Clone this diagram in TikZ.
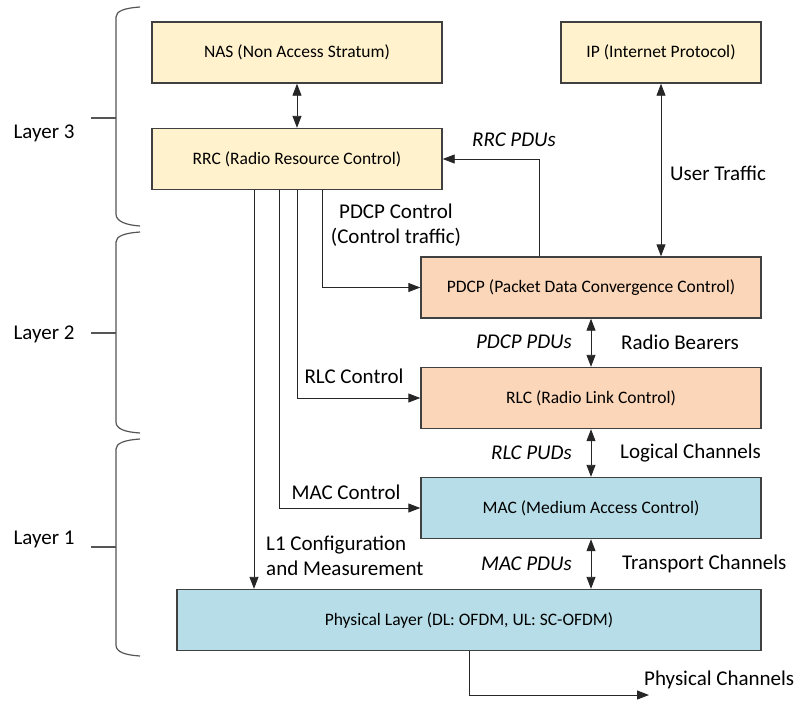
\documentclass[tikz,border=0pt]{standalone}
\usepackage{fontspec}
\setmainfont{Carlito}
\usetikzlibrary{arrows.meta,calc}
\definecolor{upperfill}{HTML}{FFF2CC}
\definecolor{midfill}{HTML}{FCD6B8}
\definecolor{lowerfill}{HTML}{B7DEE8}
\definecolor{edgegray}{HTML}{404040}
\definecolor{bracegray}{HTML}{555555}
\tikzset{
  layerbox/.style={draw=edgegray, line width=1.4pt, minimum height=61pt, inner sep=0pt,
    font=\fontsize{17.5}{21}\selectfont},
  lbl/.style={font=\fontsize{21}{25}\selectfont, inner sep=0pt},
  ilbl/.style={font=\fontsize{21}{25}\selectfont\itshape, inner sep=0pt},
  link/.style={draw=black!85, line width=0.9pt},
  tip/.style={-{Triangle[length=12pt,width=9pt]}},
  dtip/.style={{Triangle[length=12pt,width=9pt]}-{Triangle[length=12pt,width=9pt]}},
  brace/.style={draw=bracegray, line width=1.2pt}
}
\begin{document}
\begin{tikzpicture}[x=1pt,y=-1pt]
\useasboundingbox (0,0) rectangle (797,702);

% protocol layers
\node[layerbox, fill=upperfill, minimum width=290pt] (nas) at (297,52.5) {NAS (Non Access Stratum)};
\node[layerbox, fill=upperfill, minimum width=200pt] (ip) at (661,52.5) {IP (Internet Protocol)};
\node[layerbox, fill=upperfill, minimum width=290pt] (rrc) at (297,159) {RRC (Radio Resource Control)};
\node[layerbox, fill=midfill, minimum width=340pt] (pdcp) at (591,287.5) {PDCP (Packet Data Convergence Control)};
\node[layerbox, fill=midfill, minimum width=340pt] (rlc) at (591,398) {RLC (Radio Link Control)};
\node[layerbox, fill=lowerfill, minimum width=340pt] (mac) at (591,508) {MAC (Medium Access Control)};
\node[layerbox, fill=lowerfill, minimum width=584pt] (phy) at (469,620) {Physical Layer (DL: OFDM, UL: SC-OFDM)};

% data path between layers
\draw[link, dtip] (nas.south) -- (rrc.north);
\draw[link, dtip] (ip.south) -- (ip.south |- pdcp.north);
\draw[link, dtip] (pdcp.south) -- (rlc.north);
\draw[link, dtip] (rlc.south) -- (mac.north);
\draw[link, dtip] (mac.south) -- (mac.south |- phy.north);
\draw[link, tip] ([xshift=-52pt]pdcp.north) |- (rrc.east);

% control paths from RRC
\draw[link, tip] ([xshift=25pt]rrc.south) |- (pdcp.west);
\draw[link, tip] (rrc.south) |- (rlc.west);
\draw[link, tip] ([xshift=-18pt]rrc.south) |- (mac.west);
\draw[link, tip] ([xshift=-43pt]rrc.south) -- ([xshift=-43pt]rrc.south |- phy.north);

% output to the air interface
\coordinate (air) at (649,695);
\draw[link, tip] (phy.south) |- (air);

% connector labels
\node[ilbl] (rrcpdu) at (514,140) {RRC PDUs};
\node[lbl] (usertraffic) at (718,173) {User Traffic};
\node[lbl, align=center] (pdcpctl) at (396,225) {PDCP Control\\(Control traffic)};
\node[lbl] (rlcctl) at (354,376) {RLC Control};
\node[lbl] (macctl) at (346,492) {MAC Control};
\node[lbl, align=left, anchor=west] (l1cfg) at (266,555.5) {L1 Configuration\\and Measurement};
\node[ilbl, anchor=east] (pdcppdu) at (572,342) {PDCP PDUs};
\node[lbl, anchor=west] (rb) at (621,342) {Radio Bearers};
\node[ilbl, anchor=east] (rlcpud) at (572,453) {RLC PUDs};
\node[lbl, anchor=west] (lc) at (620,453) {Logical Channels};
\node[ilbl, anchor=east] (macpdu) at (572,564) {MAC PDUs};
\node[lbl, anchor=west] (tc) at (622,564) {Transport Channels};
\node[lbl, anchor=west] (pc) at (644,680) {Physical Channels};

% layer braces
\draw[brace] (140,7) .. controls (125,8) and (116,11) .. (116,17) -- (116,214) .. controls (116,221) and (125,225) .. (140,226);
\draw[brace] (116,118) -- (91,118);
\draw[brace] (140,232) .. controls (125,233) and (116,236) .. (116,242) -- (116,422) .. controls (116,429) and (125,432) .. (140,433);
\draw[brace] (116,333) -- (91,333);
\draw[brace] (140,439) .. controls (125,440) and (116,443) .. (116,449) -- (116,645) .. controls (116,652) and (125,655) .. (140,656);
\draw[brace] (116,547) -- (91,547);

\node[lbl] (l3) at (44,133) {Layer 3};
\node[lbl] (l2) at (44,334) {Layer 2};
\node[lbl] (l1) at (44,539) {Layer 1};
\end{tikzpicture}
\end{document}
